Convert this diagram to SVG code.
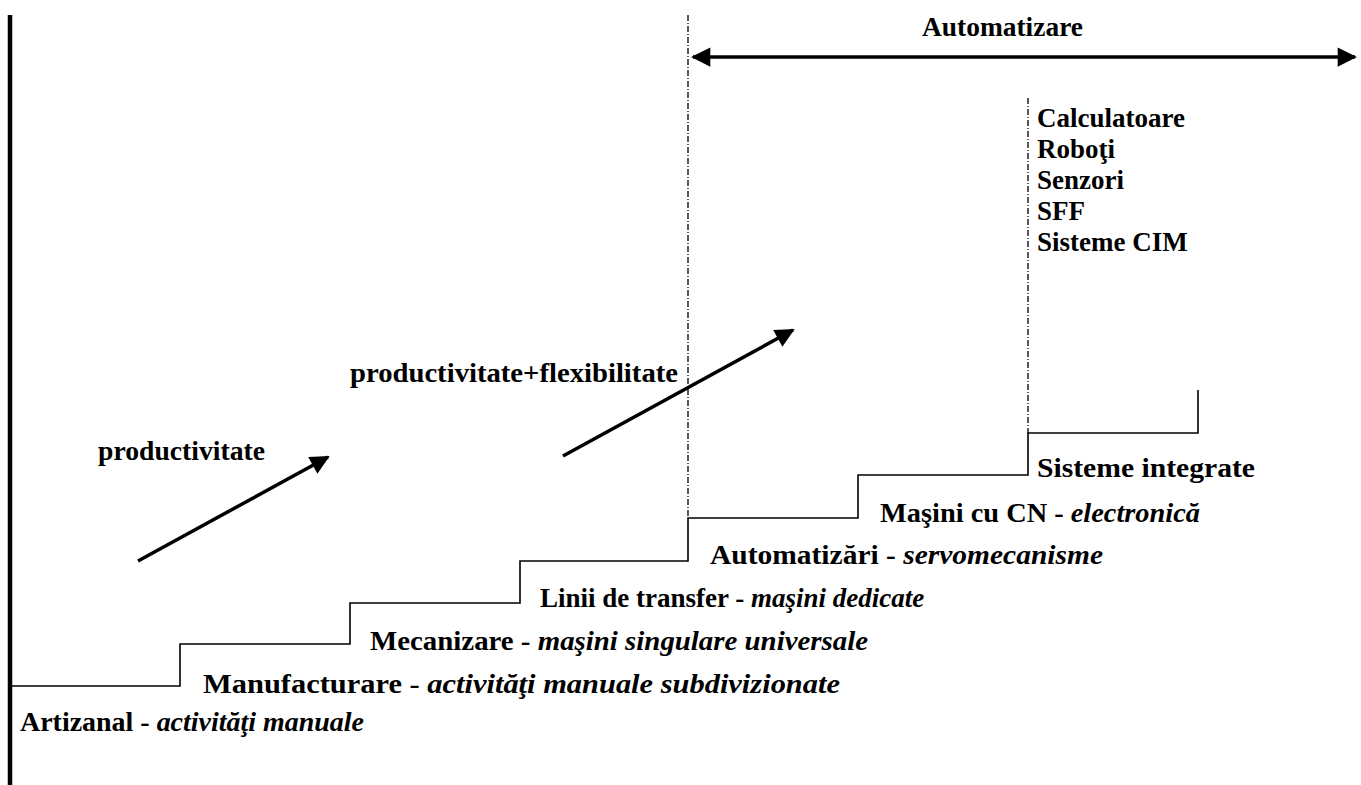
<svg xmlns="http://www.w3.org/2000/svg" width="1361" height="785" viewBox="0 0 1361 785">
  <style>
    text { font-family: "Liberation Serif", "Times New Roman", serif; font-size: 27px; font-weight: bold; fill: #000; }
    .it { font-style: italic; }
    .step { fill: none; stroke: #000; stroke-width: 1.6; }
    .dash { fill: none; stroke: #000; stroke-width: 1.3; stroke-dasharray: 6 2 1 2; }
    .arrow { fill: none; stroke: #000; stroke-width: 3.5; }
  </style>
  <defs>
    <marker id="head" viewBox="0 0 10 10" refX="9" refY="5" markerWidth="6.5" markerHeight="5.5" markerUnits="strokeWidth" orient="auto-start-reverse">
      <path d="M0,0 L10,5 L0,10 z" fill="#000"/>
    </marker>
  </defs>
  <rect width="1361" height="785" fill="#fff"/>

  <!-- axis, staircase and arrows -->
  <g id="connectors">
    <line x1="10" y1="15" x2="10" y2="785" stroke="#000" stroke-width="4.5"/>
    <line class="dash" x1="688" y1="15" x2="688" y2="518"/>
    <line class="dash" x1="1028" y1="98" x2="1028" y2="433"/>
    <path class="step" d="M12,686 H180 V644 H350 V603 H520 V561 H688 V518 H858 V475 H1028 V433 H1198 V390"/>
    <line class="arrow" x1="693" y1="57" x2="1355" y2="57" marker-start="url(#head)" marker-end="url(#head)"/>
    <line class="arrow" x1="138" y1="561" x2="328" y2="457" marker-end="url(#head)"/>
    <line class="arrow" x1="563" y1="456" x2="793" y2="330" marker-end="url(#head)"/>
  </g>

  <g id="automatizare"><text x="922" y="36" textLength="161" lengthAdjust="spacingAndGlyphs">Automatizare</text></g>

  <g id="tehnologii">
    <text x="1037" y="127">Calculatoare</text>
    <text x="1037" y="158">Roboţi</text>
    <text x="1037" y="189">Senzori</text>
    <text x="1037" y="220">SFF</text>
    <text x="1037" y="251">Sisteme CIM</text>
  </g>

  <g id="prod-flex"><text x="350" y="382" textLength="328" lengthAdjust="spacingAndGlyphs">productivitate+flexibilitate</text></g>
  <g id="prod"><text x="98" y="460" textLength="167" lengthAdjust="spacingAndGlyphs">productivitate</text></g>

  <g id="sisteme-integrate"><text x="1037" y="477" textLength="218" lengthAdjust="spacingAndGlyphs">Sisteme integrate</text></g>
  <g id="masini-cn"><text x="880" y="522" textLength="320" lengthAdjust="spacingAndGlyphs">Maşini cu CN - <tspan class="it">electronică</tspan></text></g>
  <g id="automatizari"><text x="710" y="564" textLength="393" lengthAdjust="spacingAndGlyphs">Automatizări - <tspan class="it">servomecanisme</tspan></text></g>
  <g id="linii-transfer"><text x="540" y="607">Linii de transfer - <tspan class="it">maşini dedicate</tspan></text></g>
  <g id="mecanizare"><text x="370" y="650" textLength="498" lengthAdjust="spacingAndGlyphs">Mecanizare - <tspan class="it">maşini singulare universale</tspan></text></g>
  <g id="manufacturare"><text x="203" y="693" textLength="637" lengthAdjust="spacingAndGlyphs">Manufacturare - <tspan class="it">activităţi manuale subdivizionate</tspan></text></g>
  <g id="artizanal"><text x="20" y="731" textLength="344" lengthAdjust="spacingAndGlyphs">Artizanal - <tspan class="it">activităţi manuale</tspan></text></g>
</svg>
